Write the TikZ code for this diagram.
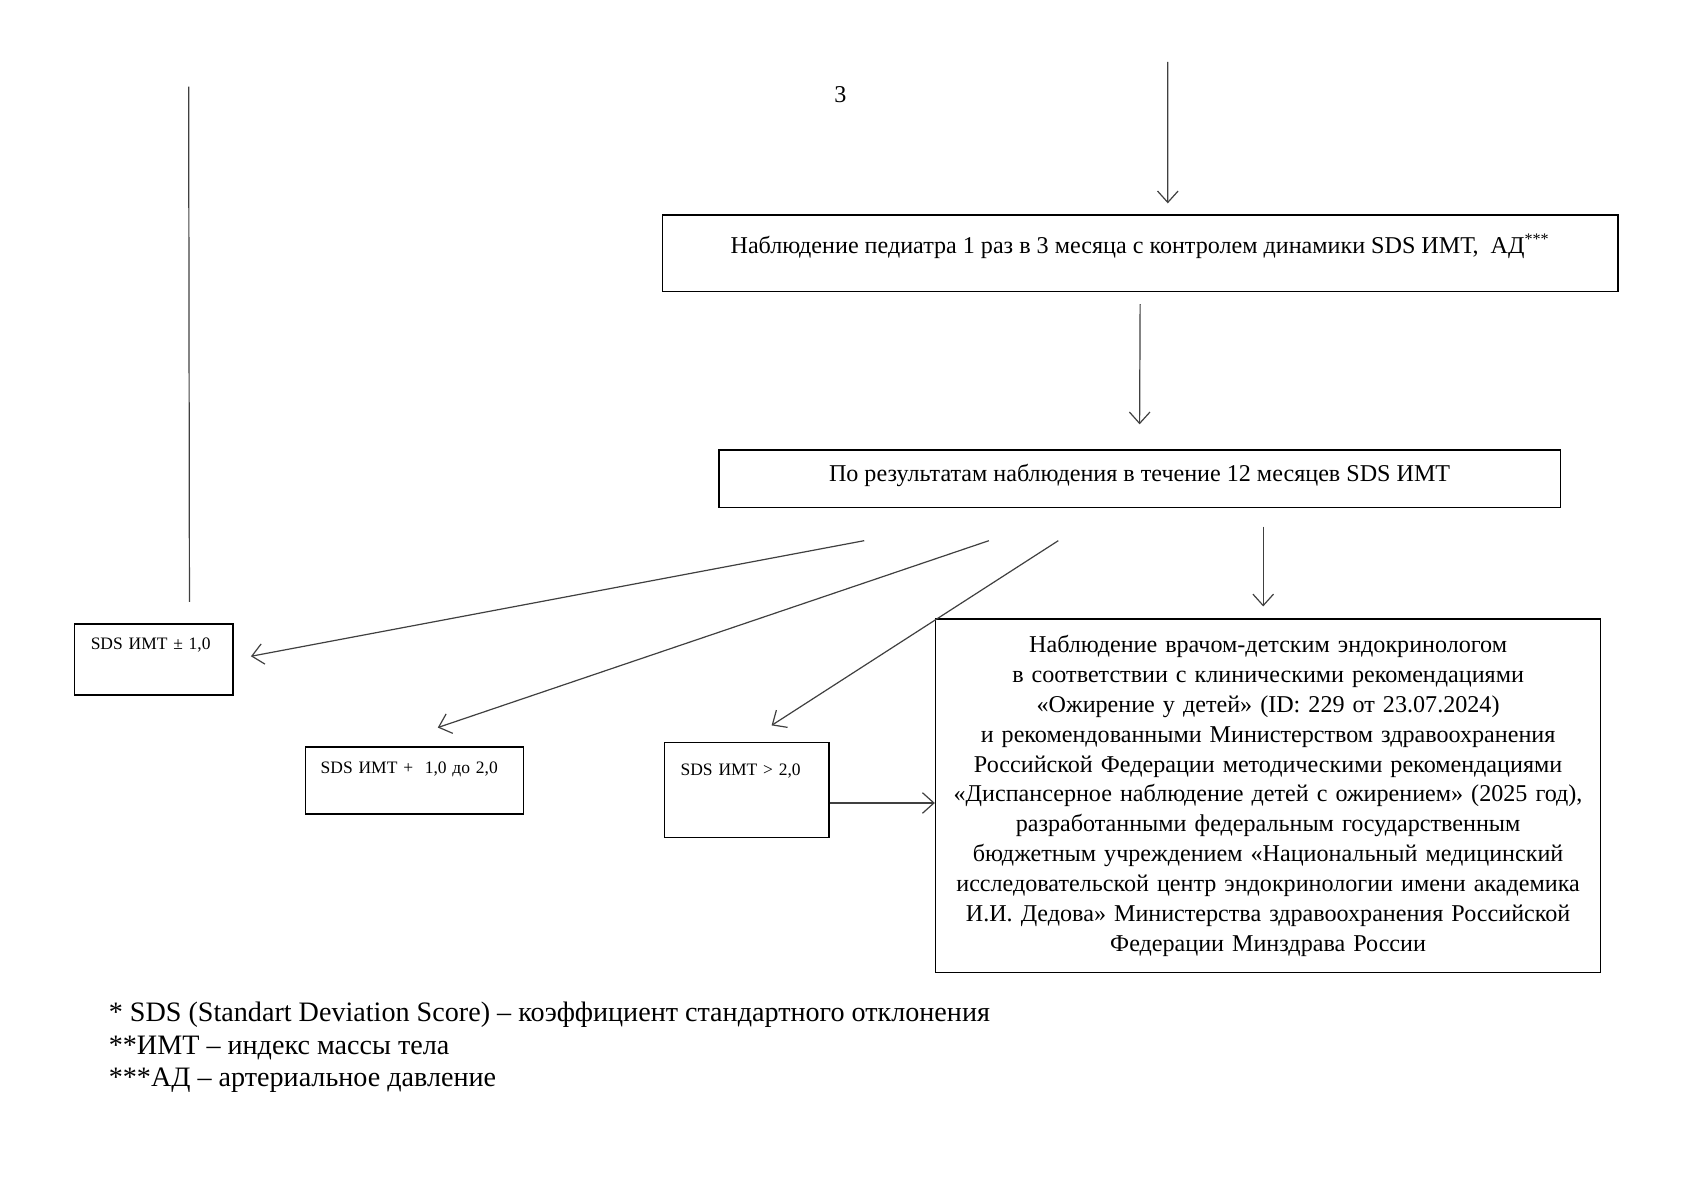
\documentclass[tikz,border=0pt]{standalone}
\usepackage{fontspec}
\setmainfont{Liberation Serif}
\usepackage{tikz}
\usetikzlibrary{calc,positioning,arrows.meta}

\begin{document}
\begin{tikzpicture}[x=0.18965mm,y=-0.18965mm,
  box/.style={draw, line width=0.8pt},
  smallbox/.style={box, anchor=north west, align=left, inner ysep=0pt, font=\fontsize{8.7}{10.5}\selectfont},
  arr/.style={draw=black!75, line width=0.6pt, -{Straight Barb[length=2mm,width=3.6mm]}}]
  \useasboundingbox (0,0) rectangle (1566,1107);
  \node[font=\fontsize{12}{14}\selectfont] (pagenum) at (775,87) {3};
  % boxes
  \node[box, minimum width=167.1mm, inner ysep=0pt, text height=19pt, text depth=19pt, font=\fontsize{12}{14}\selectfont] (watch) at (1051.5,233.5)
    {Наблюдение педиатра 1 раз в 3 месяца с контролем динамики SDS ИМТ,\ \ АД\textsuperscript{***}};
  \node[box, minimum width=147.2mm, inner ysep=0pt, text height=15.8pt, text depth=12.7pt, font=\fontsize{12}{14}\selectfont] (res) at (1051,441.5)
    {По результатам наблюдения в течение 12 месяцев SDS ИМТ};
  \node[smallbox, text width=22mm, inner xsep=2.84mm, text height=12.6pt, text depth=22.5pt] (sdsA) at (68,575) {SDS ИМТ ± 1,0};
  \node[smallbox, text width=32.8mm, inner xsep=2.66mm, text height=13.1pt, text depth=20.3pt] (sdsB) at (281,688) {SDS ИМТ +\ \ 1,0 до 2,0};
  \node[smallbox, text width=23.1mm, inner xsep=2.84mm, text height=16.3pt, text depth=31pt] (sdsC) at (612,684) {SDS ИМТ > 2,0};
  \node[box, text width=112mm, inner xsep=2.15mm, minimum height=61.8mm, align=center, font=\fontsize{12}{14.84}\selectfont] (endo) at (1169.5,734)
    {Наблюдение врачом-детским эндокринологом\\
     в соответствии с клиническими рекомендациями\\
     «Ожирение у детей» (ID: 229 от 23.07.2024)\\
     и рекомендованными Министерством здравоохранения\\
     Российской Федерации методическими рекомендациями\\
     «Диспансерное наблюдение детей с ожирением» (2025 год),\\
     разработанными федеральным государственным\\
     бюджетным учреждением «Национальный медицинский\\
     исследовательской центр эндокринологии имени академика\\
     И.И. Дедова» Министерства здравоохранения Российской\\
     Федерации Минздрава России};
  \node[anchor=north west, align=left, inner sep=0pt, font=\fontsize{14}{16.1}\selectfont] (notes) at (100,924)
    {* SDS (Standart Deviation Score) – коэффициент стандартного отклонения\\
     **ИМТ – индекс массы тела\\
     ***АД – артериальное давление};
  % connectors
  \coordinate (in) at (1077,57);
  \coordinate (up) at (174,80);
  \draw[arr] (in) -- ($(watch.north)+(25.5,-10)$);
  \draw[draw=black!75, line width=0.6pt] (up) -- ($(sdsA.north)+(33,-20)$);
  \draw[arr] ($(watch.south)+(0,11)$) -- ($(res.north)+(0,-23)$);
  \draw[arr] ($(res.south)+(-254,30)$) -- ($(sdsA.east)+(16,-3)$);
  \draw[arr] ($(res.south)+(-139,30)$) -- ($(sdsB.north)+(21.5,-17)$);
  \draw[arr] ($(res.south)+(-75,30)$) -- ($(sdsC.north)+(23,-15)$);
  \draw[arr] ($(res.south)+(114,17)$) -- ($(endo.north)+(-4.5,-11)$);
  \draw[arr] ($(sdsC.east)+(0,12)$) coordinate (c1) -- (c1 -| endo.west);
\end{tikzpicture}
\end{document}
